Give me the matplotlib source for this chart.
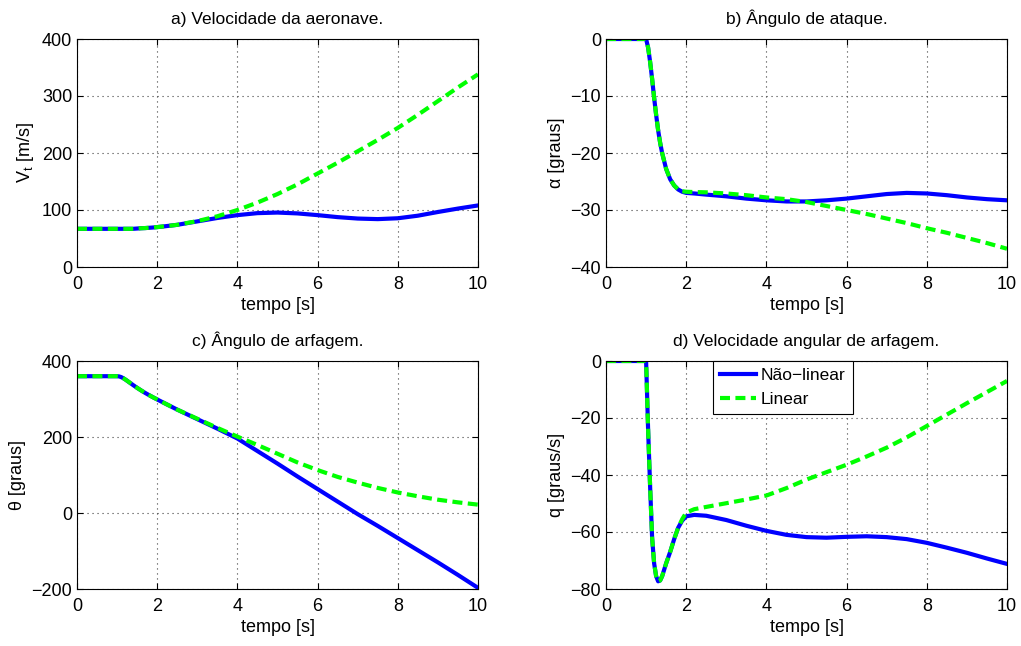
# -*- coding: utf-8 -*-
import numpy as np
import matplotlib
matplotlib.use('Agg')
import matplotlib.pyplot as plt

# tempo [s]
t = [0, 0.5, 1.0, 1.05, 1.1, 1.15, 1.2, 1.25, 1.3, 1.35, 1.4, 1.5, 1.6, 1.7, 1.8, 1.9,
     2.0, 2.2, 2.5, 3.0, 3.5, 4.0, 4.5, 5.0, 5.5, 6.0, 6.5, 7.0, 7.5, 8.0, 8.5, 9.0, 9.5, 10.0]

# a) Vt [m/s]
vt_nl = [67, 67, 67, 67, 67, 67, 67, 67, 67, 67, 67, 67.5, 68, 68.3, 68.8, 69.3,
         70, 71.5, 74, 80, 86, 91, 94.5, 95.5, 94, 91, 87.5, 85, 84, 85.5, 90, 96.5, 102.5, 108]
vt_lin = [67, 67, 67, 67, 67, 67, 67, 67, 67, 67, 67, 67.5, 68, 68.3, 68.8, 69.3,
          70, 71.5, 74, 80.5, 89, 100, 113, 128, 145, 164, 183, 203, 223, 244, 267, 291, 315, 338]

# b) alfa [graus]
alfa_nl = [0, 0, 0, -1.5, -4, -7, -10.3, -13.3, -16, -18.2, -20, -22.8, -24.6, -25.7, -26.4, -26.8,
           -27.0, -27.1, -27.3, -27.6, -28.0, -28.3, -28.5, -28.5, -28.3, -28.0, -27.6, -27.2, -27.0,
           -27.1, -27.4, -27.8, -28.1, -28.3]
alfa_lin = [0, 0, 0, -1.5, -4, -7, -10.3, -13.3, -16, -18.2, -20, -22.8, -24.6, -25.7, -26.4, -26.7,
            -26.8, -26.85, -26.9, -27.1, -27.4, -27.8, -28.1, -28.6, -29.3, -30.0, -30.7, -31.5, -32.3,
            -33.2, -34.0, -34.9, -35.8, -36.8]

# c) theta [graus]
theta_nl = [360, 360, 360, 359.4, 357.7, 355, 351.7, 348, 344.2, 340.4, 336.6, 329.3, 322.5, 316, 310, 304.3,
            298.8, 288, 272, 247, 222, 196, 163, 130, 96, 63, 30, -3, -34, -66, -98, -130, -163, -197]
theta_lin = [360, 360, 360, 359.4, 357.7, 355, 351.7, 348, 344.2, 340.4, 336.6, 329.3, 322.5, 316, 310, 304.3,
             298.8, 288, 272, 248, 224, 201, 179, 156, 133, 113, 95, 80, 66, 54, 44, 35, 28, 22]

# d) q [graus/s]
q_nl = [0, 0, 0, -24, -44, -62, -71, -75.5, -77.3, -77, -75.5, -71, -67, -62.5, -58.5, -56,
        -54.5, -54, -54.3, -55.8, -57.8, -59.6, -61, -61.8, -62, -61.7, -61.5, -61.8, -62.5, -63.8,
        -65.5, -67.3, -69.3, -71.2]
q_lin = [0, 0, 0, -24, -44, -62, -71, -75.5, -77.3, -77, -75.5, -71, -67, -62.5, -58.5, -55.5,
         -53.2, -52, -51.2, -49.9, -48.6, -47.2, -44.6, -41.6, -39, -36.4, -33.5, -30.4, -26.8, -22.8,
         -18.8, -14.8, -10.9, -7]

titulos = ['a) Velocidade da aeronave.', 'b) \u00c2ngulo de ataque.',
           'c) \u00c2ngulo de arfagem.', 'd) Velocidade angular de arfagem.']
ylabels = ['V$_t$ [m/s]', '\u03b1 [graus]', '\u03b8 [graus]', 'q [graus/s]']
ylims = [(0, 400), (-40, 0), (-200, 400), (-80, 0)]
yticks = [[0, 100, 200, 300, 400], [-40, -30, -20, -10, 0],
          [-200, 0, 200, 400], [-80, -60, -40, -20, 0]]
series = [(vt_nl, vt_lin), (alfa_nl, alfa_lin), (theta_nl, theta_lin), (q_nl, q_lin)]

plt.rcParams['font.family'] = ['Liberation Sans', 'DejaVu Sans']
plt.rcParams['mathtext.default'] = 'regular'
plt.rcParams['font.size'] = 13
plt.rcParams['axes.linewidth'] = 0.8

fig = plt.figure(figsize=(10.21, 6.46), dpi=100)

W = 1021.0
H = 646.0
# axes boxes in pixels: left, top, right, bottom
boxes = [(77, 39, 478, 267), (606, 39, 1007, 267),
         (77, 361, 478, 589), (606, 361, 1007, 589)]

for i in range(4):
    l, tp, r, b = boxes[i]
    ax = fig.add_axes([l / W, 1 - b / H, (r - l) / W, (b - tp) / H])
    nl, lin = series[i]
    ax.plot(t, nl, color='#0000ff', linewidth=3, label='N\u00e3o\u2212linear')
    ax.plot(t, lin, color='#00ff00', linewidth=3, linestyle='--', dashes=(2.4, 1.3),
            label='Linear')
    ax.set_xlim(0, 10)
    ax.set_ylim(ylims[i])
    ax.set_xticks([0, 2, 4, 6, 8, 10])
    ax.set_yticks(yticks[i])
    ax.grid(True, color='0.25', linestyle=(0, (1, 3.5)), linewidth=0.8)
    ax.tick_params(direction='in', top=True, right=True, length=4, width=0.8)
    ax.tick_params(axis='x', pad=6.5)
    ax.set_title(titulos[i], pad=11, fontsize=12.5)
    ax.set_xlabel('tempo [s]', labelpad=3)
    ax.set_ylabel(ylabels[i], labelpad=4)
    if i == 3:
        leg = ax.legend(loc='upper left', bbox_to_anchor=(0.267, 1.0), borderaxespad=0,
                        fancybox=False, framealpha=1, edgecolor='black', fontsize=12.5,
                        handlelength=2.1, handletextpad=0.25, labelspacing=0.5, borderpad=0.4)
        leg.get_frame().set_linewidth(0.8)

fig.savefig('out.png', dpi=100)
